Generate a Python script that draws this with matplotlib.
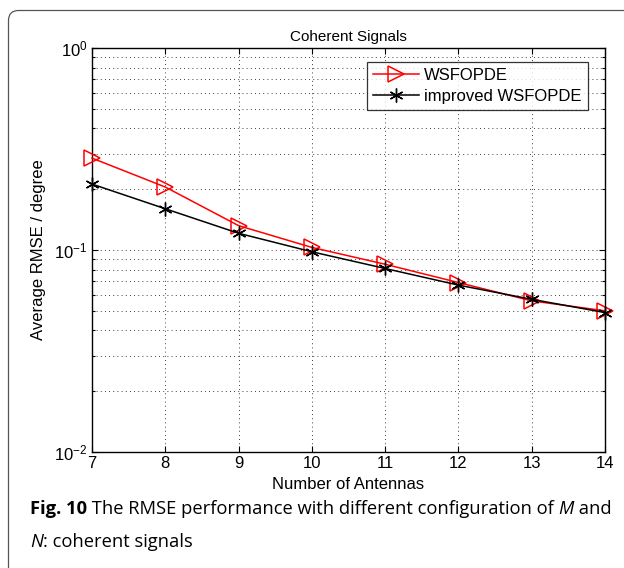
import numpy as np
import matplotlib.pyplot as plt
from matplotlib.patches import PathPatch
from matplotlib.path import Path
from matplotlib.transforms import IdentityTransform
from matplotlib.ticker import LogLocator, NullFormatter

# --- data ---
antennas = [7, 8, 9, 10, 11, 12, 13, 14]
rmse_wsfopde = [0.285, 0.205, 0.132, 0.103, 0.085, 0.069, 0.056, 0.050]
rmse_improved = [0.212, 0.160, 0.121, 0.098, 0.081, 0.067, 0.057, 0.049]
x_ticks = [7, 8, 9, 10, 11, 12, 13, 14]
series_labels = ['WSFOPDE', 'improved WSFOPDE']

plt.rcParams['font.family'] = ['Liberation Sans', 'DejaVu Sans']

W, H = 624, 568
fig = plt.figure(figsize=(W / 100, H / 100), dpi=100)

# page frame: left + top edges with a rounded corner (pixel coords)
fx, fy, r = 8.5, H - 10.5, 10
verts = [(fx, -5), (fx, fy - r), (fx, fy), (fx + r, fy), (W + 5, fy)]
codes = [Path.MOVETO, Path.LINETO, Path.CURVE3, Path.CURVE3, Path.LINETO]
fig.patches.append(PathPatch(Path(verts, codes), transform=IdentityTransform(),
                             fill=False, edgecolor='#555555', linewidth=0.9))

ax = fig.add_axes([92 / W, 1 - 452 / H, (605 - 92) / W, (452 - 48) / H])

ax.plot(antennas, rmse_wsfopde, color='red', marker='>', markersize=11,
        markerfacecolor='none', markeredgecolor='red', linewidth=1.1,
        markeredgewidth=1.1, label=series_labels[0], clip_on=False, zorder=4)
ax.plot(antennas, rmse_improved, color='black', marker=(6, 2, 0), markersize=10,
        linewidth=1.1, markeredgewidth=1.0, label=series_labels[1],
        clip_on=False, zorder=5)

ax.set_yscale('log')
ax.set_ylim(1e-2, 1e0)
ax.set_xlim(7, 14)
ax.set_xticks(x_ticks)
ax.yaxis.set_major_locator(LogLocator(base=10, numticks=5))
ax.yaxis.set_minor_locator(LogLocator(base=10, subs=np.arange(2, 10), numticks=20))
ax.yaxis.set_minor_formatter(NullFormatter())

ax.grid(True, which='major', axis='x', linestyle=(0, (1, 4)), color='black', linewidth=0.6)
ax.grid(True, which='both', axis='y', linestyle=(0, (1, 4)), color='black', linewidth=0.6)

ax.tick_params(which='both', direction='in', top=True, right=True, labelsize=12,
               width=0.8)
ax.tick_params(which='major', length=4, pad=3)
ax.tick_params(which='minor', length=2.5)
for sp in ax.spines.values():
    sp.set_linewidth(1.0)

ax.set_xlabel('Number of Antennas', fontsize=12, labelpad=4)
ax.set_ylabel('Average RMSE / degree', fontsize=12, labelpad=6)
ax.set_title('Coherent Signals', fontsize=11, pad=5)

leg = ax.legend(loc='upper right', bbox_to_anchor=(0.966, 0.966), fontsize=12,
                frameon=True, fancybox=False, edgecolor='black', borderaxespad=0,
                handlelength=2.8, borderpad=0.35, labelspacing=0.4,
                handletextpad=0.3)
leg.get_frame().set_linewidth(0.9)

# caption with mixed bold / italic runs
renderer = fig.canvas.get_renderer()
cap_font = ['Open Sans', 'DejaVu Sans']
cap_size = 13.2


def draw_runs(runs, x0, y0):
    x = x0
    for txt, weight, style in runs:
        t = fig.text(x, y0, txt, fontsize=cap_size, fontweight=weight,
                     fontstyle=style, family=cap_font, va='baseline', ha='left')
        bb = t.get_window_extent(renderer=renderer)
        x += bb.width / fig.bbox.width


line1 = [('Fig. 10', 'bold', 'normal'),
         (' The RMSE performance with different configuration of ', 'normal', 'normal'),
         ('M', 'normal', 'italic'),
         (' and', 'normal', 'normal')]
line2 = [('N', 'normal', 'italic'),
         (': coherent signals', 'normal', 'normal')]
draw_runs(line1, 30 / W, 1 - 514 / H)
draw_runs(line2, 30 / W, 1 - 547 / H)

fig.savefig('out.png', dpi=100)
